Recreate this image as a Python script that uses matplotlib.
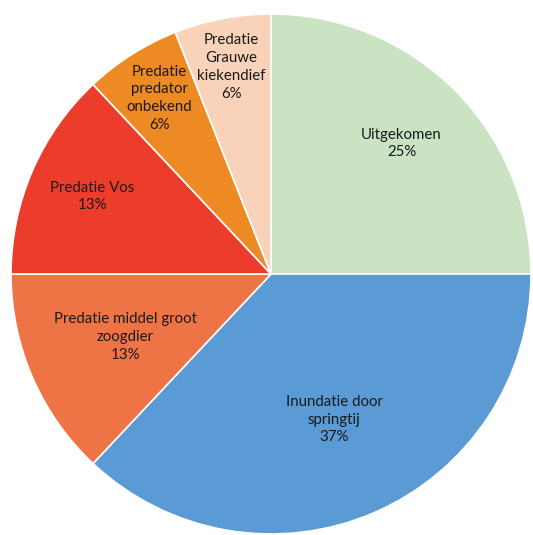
import numpy as np
import matplotlib
matplotlib.use("Agg")
import matplotlib.pyplot as plt

# nest outcomes (share of nests)
categories = ["Uitgekomen", "Inundatie door\nspringtij", "Predatie middel groot\nzoogdier",
              "Predatie Vos", "Predatie\npredator\nonbekend", "Predatie\nGrauwe\nkiekendief"]
values = [25, 37, 13, 13, 6, 6]
colors = ["#c9e3c3", "#5b9bd5", "#ef7445", "#ec3d2c", "#ee8a24", "#f9d3b9"]
label_radius = [0.71, 0.61, 0.61, 0.75, 0.80, 0.81]

plt.rcParams['font.family'] = ['Lato', 'DejaVu Sans']

fig = plt.figure(figsize=(5.33, 5.35), dpi=100)
ax = fig.add_axes([0, 0, 1, 1])

wedges, _ = ax.pie(values, colors=colors, startangle=90, counterclock=False,
                   radius=1.0, wedgeprops=dict(edgecolor="white", linewidth=1.2))

# place labels inside each wedge along its middle angle
for w, cat, v, r in zip(wedges, categories, values, label_radius):
    mid = np.deg2rad((w.theta1 + w.theta2) / 2)
    ax.text(r * np.cos(mid), r * np.sin(mid), "{}\n{}%".format(cat, v),
            ha="center", va="center", fontsize=10.8, color="#1a1a1a", linespacing=1.35)

ax.set_xlim(-271 / 260, (533 - 271) / 260)
ax.set_ylim(-(535 - 274) / 260, 274 / 260)
ax.set_aspect("auto")
ax.axis("off")

plt.savefig("out.png", dpi=100)
plt.close()
